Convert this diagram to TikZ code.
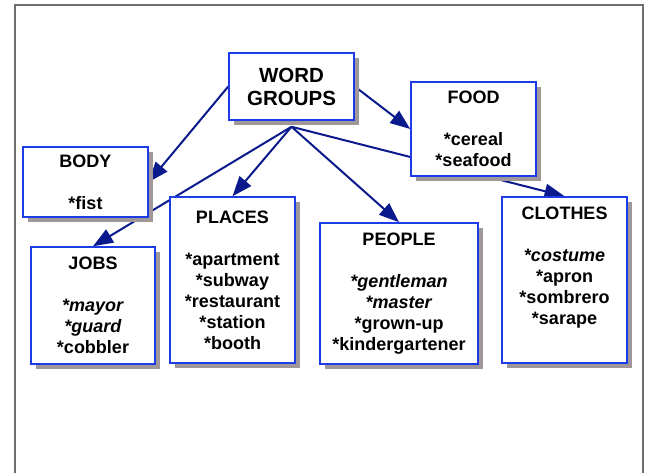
\documentclass[tikz,border=0pt]{standalone}
\usepackage{fontspec}
\setmainfont{Liberation Sans}
\usepackage{tikz}
\usetikzlibrary{shadows,arrows.meta}
\pgfdeclarelayer{background}
\pgfsetlayers{background,main}

\begin{document}
\begin{tikzpicture}[x=1pt,y=-1pt,line cap=rect,
	groupbox/.style={draw=custcol_1e_3c_e6, line width=1.5pt, fill=white, inner sep=0pt,
		align=center, font=\bfseries\fontsize{18pt}{21pt}\selectfont,
		drop shadow={shadow xshift=5pt, shadow yshift=-5pt, fill=custcol_a0_98_98, opacity=1}},
	grouplink/.style={draw=custcol_0a_1a_8c, line width=2pt, line cap=butt,
		-{Triangle[length=20pt,width=15pt]}}]
					\definecolor{custcol_1e_3c_e6}{RGB}{30, 60, 230}
					\definecolor{custcol_0a_1a_8c}{RGB}{10, 26, 140}
					\definecolor{custcol_a0_98_98}{RGB}{160, 152, 152}
					\definecolor{custcol_6e_6e_6e}{RGB}{110, 110, 110}
					\useasboundingbox (0,0) rectangle (648,473);
					% frame
					\draw [line width=2.0pt, custcol_6e_6e_6e ]  (15.0,473.0) -- (15.0,5.0) -- (643.0,5.0) -- (643.0,473.0) ;
					% boxes
					\node[groupbox, minimum width=125, minimum height=67, font=\bfseries\fontsize{20.5pt}{23pt}\selectfont] (wordgroups) at (291.5,86.5) {WORD\\GROUPS};
					\node[groupbox, minimum width=125, minimum height=94] (food) at (473.5,129.0) {FOOD\\[21pt]{*}cereal\\{*}seafood};
					\node[groupbox, minimum width=125, minimum height=70] (body) at (85.5,182.0) {BODY\\[21pt]{*}fist};
					\node[groupbox, minimum width=125, minimum height=166] (places) at (232.5,280.0) {PLACES\\[21pt]{*}apartment\\{*}subway\\{*}restaurant\\{*}station\\{*}booth};
					\node[groupbox, minimum width=124, minimum height=117] (jobs) at (93.0,305.5) {JOBS\\[21pt]\textit{*mayor}\\\textit{*guard}\\{*}cobbler};
					\node[groupbox, minimum width=158, minimum height=141] (people) at (399.0,293.5) {PEOPLE\\[21pt]\textit{*gentleman}\\\textit{*master}\\{*}grown-up\\{*}kindergartener};
					\node[groupbox, minimum width=125, minimum height=166] (clothes) at (564.5,280.0) {CLOTHES\\[21pt]\textit{*costume}\\{*}apron\\{*}sombrero\\{*}sarape\\[7pt]\mbox{}};
					\coordinate (hub) at ([yshift=-6pt]wordgroups.south);
					% links
					\begin{pgfonlayer}{background}
					\draw [grouplink]  (wordgroups.west) -- (body.east) ;
					\draw [grouplink]  (wordgroups.east) -- (food.west) ;
					\draw [grouplink]  (hub) -- (jobs.north) ;
					\draw [grouplink]  (hub) -- (places.north) ;
					\draw [grouplink]  (hub) -- (people.north) ;
					\draw [grouplink]  (hub) -- (clothes.north) ;
					\end{pgfonlayer}
				\end{tikzpicture}
\end{document}
